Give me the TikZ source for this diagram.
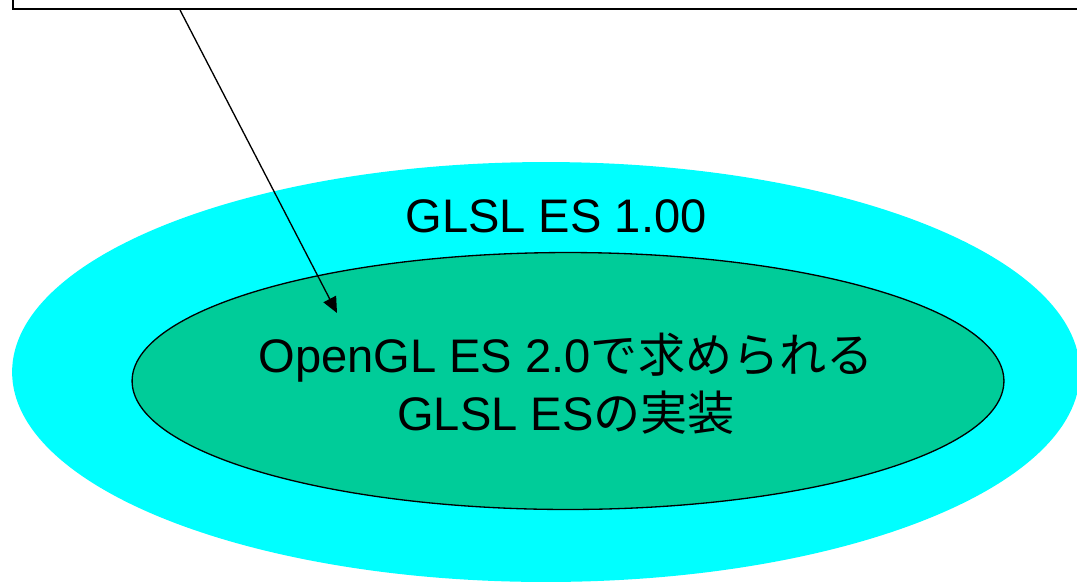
\documentclass[tikz,border=0pt]{standalone}
\usepackage{fontspec}
\setmainfont{Liberation Sans}
\newfontfamily\jpfont{Noto Sans CJK JP}
\usetikzlibrary{shapes.geometric,arrows.meta}

\definecolor{glslcyan}{RGB}{0,255,255}
\definecolor{implgreen}{RGB}{0,204,153}

\tikzset{
    bigtext/.style={font=\fontsize{26.8}{33}\selectfont, align=center, inner sep=0pt},
    blob/.style={ellipse, inner sep=0pt},
}

\begin{document}
\begin{tikzpicture}[x=0.02cm, y=-0.02cm]
        \useasboundingbox (0,0) rectangle (1077,582);
        \clip (0,0) rectangle (1077,582);

        % box at the top, cut off by the page
        \node[draw, line width=1pt, anchor=south west, inner sep=0pt,
              minimum width=22.4cm, minimum height=1.4cm] (spec) at (12,10) {};

        \node[blob, fill=glslcyan, minimum width=21.36cm, minimum height=8.4cm] (glsl) at (546,372) {};
        \node[blob, fill=implgreen, draw, line width=0.75pt,
              minimum width=17.44cm, minimum height=5.14cm] (impl) at (568,381) {};

        \node[bigtext] (glsl label) at (556,216) {GLSL ES 1.00};
        \node[bigtext] (impl label) at (566,384) {OpenGL ES 2.0{\jpfont で求められる}\\GLSL ES{\jpfont の実装}};

        \coordinate (arrow start) at (180,10);
        \coordinate (arrow tip) at (337,313);
        \draw[line width=0.75pt, -{Triangle[length=9pt, width=8pt]}] (arrow start) -- (arrow tip);
    \end{tikzpicture}
\end{document}
